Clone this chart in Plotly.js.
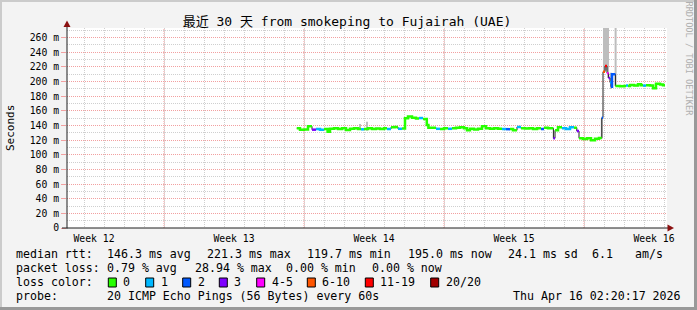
<!DOCTYPE html>
<html><head><meta charset="utf-8">
<script src="https://cdn.plot.ly/plotly-3.0.1.min.js"></script>
<style>html,body{margin:0;padding:0;background:#f3f3f3;}#chart{width:697px;height:310px;}</style>
</head><body><div id="chart"></div>
<script>
// ---------- data ----------
const days = [11.49,11.65,11.85,12.05,12.25,12.45,12.65,12.85,13.03,13.15,13.35,13.55,13.75,13.95,14.15,14.35,14.55,14.70,14.85,15.05,15.25,15.45,15.65,15.85,16.00,16.20,16.40,16.55,16.75,16.90,17.05,17.25,17.45,17.60,17.80,17.99,18.07,18.25,18.45,18.65,18.85,19.05,19.25,19.45,19.65,19.85,20.00,20.15,20.35,20.55,20.75,20.95,21.15,21.35,21.55,21.75,21.95,22.15,22.30,22.50,22.70,22.90,23.10,23.30,23.50,23.70,23.85,24.05,24.32,24.40,24.55,24.75,24.95,25.15,25.35,25.49,25.60,25.80,26.00,26.20,26.40,26.60,26.74,26.80,26.90,27.00,27.08,27.15,27.20,27.25,27.42,27.65,27.85,27.95,28.05,28.15,28.35,28.55,28.70,28.80,28.95,29.15,29.30,29.45,29.65,29.80];
const medianMs = [136.2,134.3,134.5,138.9,134.3,135.2,134.3,135.2,131.6,135.5,136.2,135.2,136.2,134.0,135.5,136.2,135.2,134.8,135.2,136.2,135.2,136.0,135.2,136.2,135.2,137.5,138.0,135.5,136.0,149.8,152.3,150.5,149.5,150.2,149.0,140.7,137.0,137.0,135.5,135.2,136.2,135.5,136.2,137.0,137.5,136.2,133.6,135.5,134.5,135.5,139.0,136.2,135.5,136.2,135.5,135.2,135.0,135.2,133.4,138.0,136.2,136.0,136.2,135.2,136.2,135.2,137.0,136.2,122.5,133.4,137.5,136.2,135.2,137.5,137.0,132.5,122.5,121.5,122.5,119.7,122.0,123.0,150.7,213.5,221.3,211.3,205.0,198.8,193.0,210.0,194.0,193.5,194.0,194.5,194.0,195.4,194.5,196.3,195.0,194.5,195.0,194.5,190.8,197.0,196.0,195.0];
const lossClass = [0,0,0,0,3,1,1,0,0,0,0,0,0,0,0,0,0,1,0,0,0,0,0,0,1,0,0,1,0,0,0,0,0,1,0,0,0,0,1,0,0,1,0,0,0,0,0,0,0,0,0,0,0,0,0,1,2,0,0,1,0,0,0,0,0,2,0,0,3,0,0,1,1,1,0,3,0,0,0,0,0,0,2,5,6,4,3,1,2,2,0,0,0,1,0,0,0,0,0,1,0,0,0,0,0,0];
const endDay = 29.9;
const smokeDays = [14.65,15.0,26.74,26.85,26.95,27.05,27.2,27.43];
const smokeLo = [134,133,122,212,215,205,190,194];
const smokeHi = [142,145,150,275,275,275,212,275];
const lossLabels = ['0','1','2','3','4-5','6-10','11-19','20/20'];
const lossColors = ['#26ff00','#00b8ff','#0059ff','#7e00ff','#ff00ff','#ff5500','#ff0000','#a10000'];
const weekLabels = ['Week 12','Week 13','Week 14','Week 15','Week 16'];
const weekCenters = [1.35,8.35,15.35,22.35,29.35];
const weekStarts = [4.85,11.85,18.85,25.85];
const yTicks = [0,20,40,60,80,100,120,140,160,180,200,220,240,260];
const yTickText = yTicks.map(v => v === 0 ? '0' : v + ' m');
const rttStats = ['146.3 ms avg','221.3 ms max','119.7 ms min','195.0 ms now','24.1 ms sd','6.1','am/s'];
const lossStats = ['0.79 % avg','28.94 % max','0.00 % min','0.00 % now'];
const probeText = '20 ICMP Echo Pings (56 Bytes) every 60s';
const dateText = 'Thu Apr 16 02:20:17 2026';
const titleText = '最近 30 天 from smokeping to Fujairah (UAE)';

// ---------- geometry helpers (pixels -> paper) ----------
const L = 67, R = 667, T = 28, B = 228;
const Y_MAX = 273.2;
const px = x => (x - L) / (R - L);
const py = y => (B - y) / (B - T);
const MONO = 'DejaVu Sans Mono, monospace';

// ---------- traces ----------
const traces = [];
traces.push({type:'bar', x: smokeDays, y: smokeHi.map((h,i)=>h - smokeLo[i]), base: smokeLo,
  width: 0.1, marker:{color:'#bdbdbd', line:{width:0}}, hoverinfo:'skip'});
traces.push({type:'scatter', mode:'lines', x: days.concat([endDay]), y: medianMs.concat([medianMs[medianMs.length-1]]),
  line:{shape:'hv', color:'#202020', width:1}, hoverinfo:'skip'});
for (let c = 0; c < lossColors.length; c++) {
  const xs = [], ys = [];
  for (let i = 0; i < days.length; i++) {
    if (lossClass[i] !== c) continue;
    xs.push(days[i]); ys.push(medianMs[i]);
    const next = i + 1 < days.length ? lossClass[i+1] : -1;
    if (next !== c) {
      xs.push(i + 1 < days.length ? days[i+1] : endDay); ys.push(medianMs[i]);
      xs.push(null); ys.push(null);
    }
  }
  if (xs.length) traces.push({type:'scatter', mode:'lines', x: xs, y: ys, connectgaps:false,
    line:{shape:'hv', color: lossColors[c], width:2.5}, hoverinfo:'skip'});
}

// ---------- shapes ----------
const shapes = [];
weekStarts.forEach(d => shapes.push({type:'line', xref:'x', yref:'y', x0:d, x1:d, y0:0, y1:Y_MAX,
  line:{color:'#f29a9a', width:1, dash:'1px,1px'}, layer:'below'}));
// frame bevel
shapes.push({type:'rect', xref:'paper', yref:'paper', x0:px(0), x1:px(697), y0:py(0), y1:py(2), fillcolor:'#cbcbcb', line:{width:0}});
shapes.push({type:'rect', xref:'paper', yref:'paper', x0:px(0), x1:px(2), y0:py(0), y1:py(310), fillcolor:'#cbcbcb', line:{width:0}});
shapes.push({type:'rect', xref:'paper', yref:'paper', x0:px(0), x1:px(697), y0:py(307), y1:py(310), fillcolor:'#999999', line:{width:0}});
shapes.push({type:'rect', xref:'paper', yref:'paper', x0:px(694), x1:px(697), y0:py(0), y1:py(310), fillcolor:'#999999', line:{width:0}});
// axes
shapes.push({type:'line', xref:'paper', yref:'paper', x0:px(67), x1:px(67), y0:py(228.5), y1:py(24), line:{color:'#1f1f1f', width:1}});
shapes.push({type:'line', xref:'paper', yref:'paper', x0:px(62), x1:px(669), y0:py(228), y1:py(228), line:{color:'#1f1f1f', width:1}});
shapes.push({type:'path', xref:'paper', yref:'paper', path:`M ${px(67)} ${py(20.5)} L ${px(63.5)} ${py(27)} L ${px(70.5)} ${py(27)} Z`, fillcolor:'#8b1010', line:{width:0}});
shapes.push({type:'path', xref:'paper', yref:'paper', path:`M ${px(674)} ${py(228)} L ${px(667.5)} ${py(224.5)} L ${px(667.5)} ${py(231.5)} Z`, fillcolor:'#8b1010', line:{width:0}});
// loss colour boxes
const boxX = [108.3,145.7,182.7,219.3,256.7,307.3,365.3,430.7];
lossColors.forEach((col,i) => shapes.push({type:'rect', xref:'paper', yref:'paper',
  x0:px(boxX[i]), x1:px(boxX[i]+8), y0:py(278), y1:py(287), fillcolor:col, line:{color:'#000', width:1}}));

// ---------- annotations ----------
const ann = [];
const txt = (t, x, y, size, extra) => ann.push(Object.assign({text:t, xref:'paper', yref:'paper', x:px(x-2), y:py(y),
  xanchor:'left', yanchor:'middle', showarrow:false, font:{family:MONO, size:size, color:'#000'}}, extra||{}));
const LEG = 11.6;
txt('median rtt:', 16, 254.3, LEG);
[107,207.3,306.7,407.7,507.7,592.3,635].forEach((x,i)=>txt(rttStats[i], x, 254.3, LEG));
txt('packet loss:', 16, 268.3, LEG);
[107.3,195,286,372.3].forEach((x,i)=>txt(lossStats[i], x, 268.3, LEG));
txt('loss color:', 16, 282.3, LEG);
boxX.forEach((x,i)=>txt(lossLabels[i], x+15, 282.3, LEG));
txt('probe:', 16, 296, LEG);
txt(probeText, 107, 296, LEG);
txt(dateText, 512.7, 296, LEG);
ann.push({text:'Seconds', xref:'paper', yref:'paper', x:px(10), y:py(128), xanchor:'center', yanchor:'middle',
  textangle:-90, showarrow:false, font:{family:MONO, size:11, color:'#000'}});
ann.push({text:'RRDTOOL / TOBI OETIKER', xref:'paper', yref:'paper', x:px(688.5), y:py(59), xanchor:'center', yanchor:'middle',
  textangle:90, showarrow:false, font:{family:MONO, size:8.6, color:'#b0b0b0'}});

const layout = {
  width:697, height:310,
  margin:{l:67, r:30, t:28, b:82, pad:0},
  paper_bgcolor:'#f3f3f3', plot_bgcolor:'#ffffff',
  showlegend:false, barmode:'overlay',
  title:{text:titleText, font:{family:'DejaVu Sans Mono, Noto Sans CJK SC, monospace', size:13, color:'#000'},
    xref:'container', yref:'container', x:347/697, xanchor:'center', y:1-21/310, yanchor:'middle'},
  xaxis:{range:[0,30], tickvals:weekCenters, ticktext:weekLabels, ticks:'', showgrid:false, zeroline:false, showline:false,
    tickfont:{family:MONO, size:9.75, color:'#000'}, ticklabelstandoff:3,
    minor:{tickmode:'linear', tick0:0.85, dtick:1, showgrid:true, gridcolor:'#cfcfcf', gridwidth:1, griddash:'1px,1px', ticks:''},
    fixedrange:true},
  yaxis:{range:[0,Y_MAX], tickvals:yTicks, ticktext:yTickText, ticks:'outside', ticklen:5, tickcolor:'#f2a0a0',
    showgrid:true, gridcolor:'#f2a0a0', gridwidth:1, griddash:'1px,1px', zeroline:false, showline:false,
    tickfont:{family:MONO, size:9.75, color:'#000'},
    minor:{tickmode:'linear', tick0:0, dtick:10, showgrid:true, gridcolor:'#cfcfcf', gridwidth:1, griddash:'1px,1px', ticks:''},
    fixedrange:true},
  shapes:shapes, annotations:ann
};
Plotly.newPlot('chart', traces, layout, {displayModeBar:false, staticPlot:true});
</script></body></html>
